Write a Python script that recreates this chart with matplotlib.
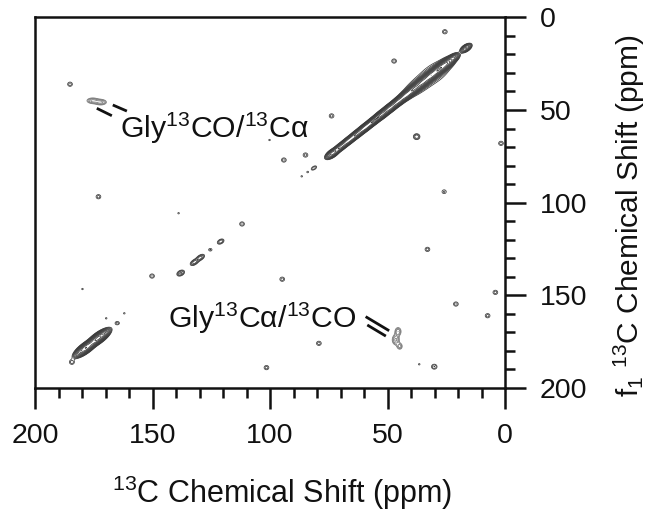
import numpy as np
import matplotlib
matplotlib.use("Agg")
import matplotlib.pyplot as plt
from matplotlib.ticker import MultipleLocator

plt.rcParams["font.family"] = ["Liberation Sans", "DejaVu Sans"]
plt.rcParams["mathtext.fontset"] = "custom"
plt.rcParams["mathtext.rm"] = "Liberation Sans"
plt.rcParams["mathtext.it"] = "Liberation Sans:italic"
plt.rcParams["mathtext.bf"] = "Liberation Sans:bold"

# ---- spectrum content (ppm) ----
# autocorrelation (diagonal) peaks: shift, height, width along / across diagonal
diag_shift = [16.6, 22.0, 25.0, 28.0, 31.5, 35.0, 38.5, 42.0, 45.5, 49.0,
              52.5, 56.0, 59.5, 63.0, 66.5, 70.0, 73.5, 30.0, 38.0,
              81.3, 121.0, 125.4, 129.6, 132.2, 138.0, 165.0, 173.0, 178.5]
diag_height = [0.35, 0.4, 1.1, 1.5, 1.4, 1.2, 1.1, 1.0, 0.9, 0.9,
               0.85, 0.8, 0.75, 0.6, 0.5, 0.45, 0.5, 0.08, 0.06,
               0.06, 0.08, 0.045, 0.10, 0.10, 0.09, 0.05, 1.4, 1.2]
diag_along = [1.5, 1.6, 2.0, 2.2, 2.2, 2.2, 2.2, 2.2, 2.2, 2.2,
              2.2, 2.2, 2.2, 2.2, 2.2, 2.2, 1.8, 6.0, 5.0,
              1.2, 1.2, 0.8, 1.4, 1.4, 1.3, 0.9, 2.8, 2.8]
diag_across = [0.8, 0.85, 1.0, 1.0, 1.0, 1.0, 0.95, 0.9, 0.85, 0.85,
               0.85, 0.8, 0.8, 0.8, 0.8, 0.8, 0.85, 3.0, 2.5,
               0.7, 0.8, 0.8, 0.8, 0.8, 0.9, 0.9, 1.0, 1.0]

# Gly CO / Calpha cross peaks: f2, f1, height, width f2, width f1
cross_f2 = [175.5, 172.0, 45.5, 46.5, 44.8]
cross_f1 = [45.0, 45.8, 169.5, 174.0, 177.5]
cross_height = [0.09, 0.09, 0.08, 0.09, 0.07]
cross_w2 = [1.6, 1.6, 0.9, 1.0, 0.8]
cross_w1 = [1.0, 1.0, 1.5, 1.8, 1.2]

# isolated weak spots: f2, f1, height
spot_f2 = [185.1, 173.0, 94.1, 84.9, 25.6, 47.2, 73.8, 1.7, 25.9, 111.9,
           150.2, 94.8, 184.3, 79.2, 101.5, 33.0, 20.9, 4.1, 7.4, 30.1,
           37.6, 138.9, 179.8, 169.7, 162.0, 36.5, 100.2, 84.0, 86.5]
spot_f1 = [36.1, 96.8, 77.0, 74.3, 7.8, 23.6, 53.2, 68.0, 94.1, 111.5,
           139.6, 141.3, 186.1, 175.9, 189.0, 125.2, 154.7, 148.4, 161.0, 188.5,
           64.4, 105.7, 146.6, 162.4, 159.7, 187.2, 66.2, 83.5, 85.8]
spot_height = [0.05, 0.05, 0.05, 0.05, 0.05, 0.05, 0.05, 0.05, 0.045, 0.05,
               0.05, 0.05, 0.05, 0.05, 0.05, 0.05, 0.05, 0.05, 0.05, 0.06,
               0.08, 0.034, 0.034, 0.034, 0.034, 0.034, 0.034, 0.034, 0.034]

x_ticks = [200, 150, 100, 50, 0]
y_ticks = [0, 50, 100, 150, 200]

# ---- build the 2D surfaces ----
axis = np.arange(-2.0, 202.0, 0.25)
F2, F1 = np.meshgrid(axis, axis)

diag_surface = np.zeros_like(F2)
u = (F2 + F1) / np.sqrt(2.0)
v = (F2 - F1) / np.sqrt(2.0)
for s, h, a, c in zip(diag_shift, diag_height, diag_along, diag_across):
    u0 = 2 * s / np.sqrt(2.0)
    diag_surface += h * np.exp(-0.5 * (((u - u0) / a) ** 2 + (v / c) ** 2))

for x0, y0, h in zip(spot_f2, spot_f1, spot_height):
    sig = 1.0 if h >= 0.045 else 0.7
    diag_surface += h * np.exp(-0.5 * (((F2 - x0) / sig) ** 2 + ((F1 - y0) / (sig * 1.15)) ** 2))

cross_surface = np.zeros_like(F2)
for x0, y0, h, w2, w1 in zip(cross_f2, cross_f1, cross_height, cross_w2, cross_w1):
    cross_surface += h * np.exp(-0.5 * (((F2 - x0) / w2) ** 2 + ((F1 - y0) / w1) ** 2))

levels = 0.03 * 1.4 ** np.arange(14)

# ---- figure ----
fig = plt.figure(figsize=(6.5, 5.11), dpi=100)
ax = fig.add_axes([35 / 650, 1 - 388 / 511, 470 / 650, 370.7 / 511])

ax.contour(F2, F1, diag_surface, levels=levels, colors="#3c3c3c", linewidths=0.55)
ax.contour(F2, F1, cross_surface, levels=levels, colors="#7a7a7a", linewidths=0.6)

ax.set_xlim(200, 0)
ax.set_ylim(200, 0)

for sp in ax.spines.values():
    sp.set_linewidth(1.8)
    sp.set_color("#111111")

ax.yaxis.tick_right()
ax.set_xticks(x_ticks)
ax.set_yticks(y_ticks)
ax.xaxis.set_minor_locator(MultipleLocator(10))
ax.yaxis.set_minor_locator(MultipleLocator(10))
ax.tick_params(axis="both", which="major", direction="out", length=15, width=1.8,
               labelsize=20.5, color="#111111", labelcolor="#111111")
ax.tick_params(axis="both", which="minor", direction="out", length=7, width=1.8,
               color="#111111")
ax.tick_params(axis="x", which="major", pad=10.5)
ax.tick_params(axis="y", which="both", left=False, right=True, labelleft=False,
               labelright=True)
ax.tick_params(axis="y", which="major", pad=10)

# peak labels with leader lines
ax.text(163.8, 65.3, "Gly$^{13}$CO/$^{13}$C\u03b1", fontsize=21.8,
        ha="left", va="baseline", color="#111111")
ax.text(143.2, 167.8, "Gly$^{13}$C\u03b1/$^{13}$CO", fontsize=21.8,
        ha="left", va="baseline", color="#111111")
ax.plot([173.7, 167.3], [49.1, 53.1], color="#111111", lw=2.0, solid_capstyle="butt")
ax.plot([166.9, 160.9], [47.3, 50.6], color="#111111", lw=2.0, solid_capstyle="butt")
ax.plot([59.3, 49.3], [161.5, 169.1], color="#111111", lw=2.0, solid_capstyle="butt")
ax.plot([58.6, 50.7], [166.0, 172.0], color="#111111", lw=2.0, solid_capstyle="butt")

# axis titles
fig.text(112 / 650, 1 - 503.3 / 511, "$^{13}$C Chemical Shift (ppm)", fontsize=22,
         ha="left", va="baseline", color="#111111")
fig.text(639 / 650, 1 - 397 / 511, "f$_1$ $^{13}$C Chemical Shift (ppm)", fontsize=21.5,
         ha="left", va="baseline", rotation=90, rotation_mode="anchor",
         color="#111111")

fig.savefig("out.png", dpi=100, facecolor="white")
